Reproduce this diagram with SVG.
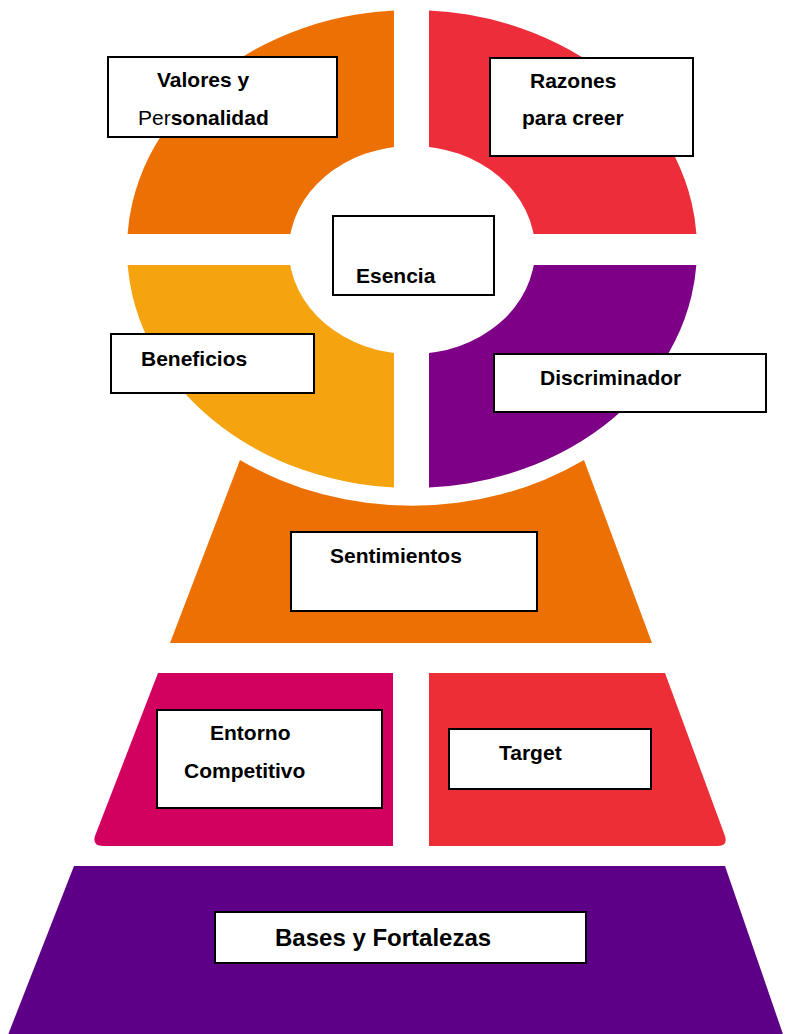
<svg xmlns="http://www.w3.org/2000/svg" width="785" height="1034" viewBox="0 0 785 1034">
<style>
.box{fill:#ffffff;stroke:#000000;stroke-width:2}
.t{font-family:"Liberation Sans",Arial,sans-serif;font-weight:bold;font-size:21px;fill:#000000}
.n{font-weight:normal}
</style>
<defs>
<path id="ring" fill-rule="evenodd" d="M127 249 A285 239 0 1 0 697 249 A285 239 0 1 0 127 249 Z M289 250 A123 104 0 1 0 535 250 A123 104 0 1 0 289 250 Z"/>
<clipPath id="cTL"><rect x="0" y="0" width="394" height="234"/></clipPath>
<clipPath id="cTR"><rect x="429" y="0" width="356" height="234"/></clipPath>
<clipPath id="cBL"><rect x="0" y="265" width="394" height="300"/></clipPath>
<clipPath id="cBR"><rect x="429" y="265" width="356" height="300"/></clipPath>
</defs>
<rect width="785" height="1034" fill="#ffffff"/>

<g id="bases">
<path d="M74 866 L725 866 L785 1040 L6 1040 Z" fill="#5E0087"/>
<rect class="box" x="215" y="912" width="371" height="51"/>
<text class="t" x="275" y="946" style="font-size:24px">Bases y Fortalezas</text>
</g>

<g id="entorno">
<path d="M158 673 L393 673 L393 846 L103 846 Q92 846 95 836 Z" fill="#D2005E"/>
<rect class="box" x="157" y="710" width="225" height="98"/>
<text class="t" x="210" y="740">Entorno</text>
<text class="t" x="184" y="778">Competitivo</text>
</g>

<g id="target">
<path d="M429 673 L665 673 L725 836 Q728 846 718 846 L429 846 Z" fill="#EE2E36"/>
<rect class="box" x="449" y="729" width="202" height="60"/>
<text class="t" x="499" y="760">Target</text>
</g>

<g id="sentimientos">
<path d="M240 460 L170 643 L652 643 L584 460 A301 255 0 0 1 240 460 Z" fill="#ED7004"/>
<rect class="box" x="291" y="532" width="246" height="79"/>
<text class="t" x="330" y="563">Sentimientos</text>
</g>

<g id="valores">
<use href="#ring" fill="#ED7004" clip-path="url(#cTL)"/>
<rect class="box" x="108" y="57" width="229" height="80"/>
<text class="t" x="157" y="87">Valores y</text>
<text class="t" x="138" y="125"><tspan class="n">Per</tspan>sonalidad</text>
</g>

<g id="razones">
<use href="#ring" fill="#EE2D3A" clip-path="url(#cTR)"/>
<rect class="box" x="490" y="58" width="203" height="98"/>
<text class="t" x="530" y="88">Razones</text>
<text class="t" x="522" y="125">para creer</text>
</g>

<g id="beneficios">
<use href="#ring" fill="#F5A30F" clip-path="url(#cBL)"/>
<rect class="box" x="111" y="334" width="203" height="59"/>
<text class="t" x="141" y="366">Beneficios</text>
</g>

<g id="discriminador">
<use href="#ring" fill="#7E0086" clip-path="url(#cBR)"/>
<rect class="box" x="494" y="354" width="272" height="58"/>
<text class="t" x="540" y="385">Discriminador</text>
</g>

<g id="esencia">
<rect class="box" x="333" y="216" width="161" height="79"/>
<text class="t" x="356" y="283">Esencia</text>
</g>

<g id="connectors"></g>
</svg>
